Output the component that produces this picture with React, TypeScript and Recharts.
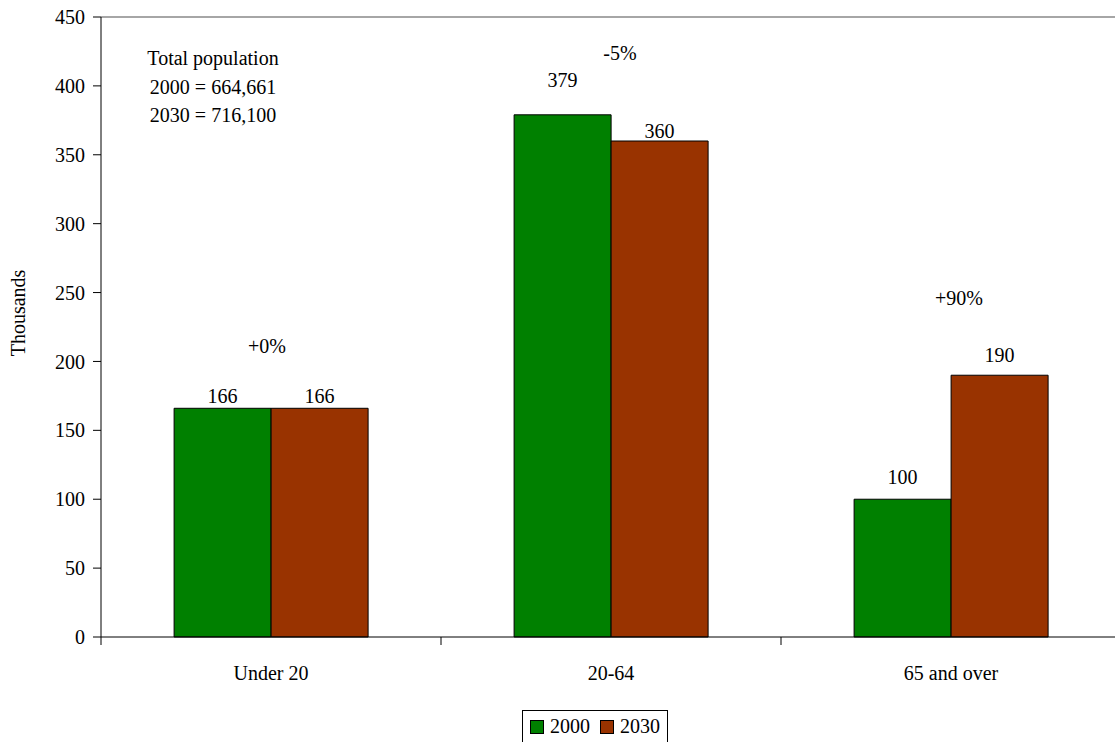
import React from 'react';
import {
  BarChart,
  Bar,
  XAxis,
  YAxis,
  LabelList,
  Legend,
  ReferenceLine,
  ReferenceDot,
  Label,
} from 'recharts';

// ---------- data ----------
const categories = ['Under 20', '20-64', '65 and over'];
const values2000 = [166, 379, 100];
const values2030 = [166, 360, 190];
const changeLabels = ['+0%', '-5%', '+90%'];
const yTicks = [0, 50, 100, 150, 200, 250, 300, 350, 400, 450];
const totalLines = ['Total population', '2000 = 664,661', '2030 = 716,100'];
const seriesNames = ['2000', '2030'];

// ---------- styling (annotation placement, not data) ----------
const changeLabelHeight = [211, 424, 246];
const changeLabelDx = [-4, 9, 8];
const lift2000 = [12, 35, 22];
const lift2030 = [12, 10, 20];

const FONT = '"Liberation Serif", "Times New Roman", serif';
const GREEN = '#008000';
const RUST = '#993300';

const data = categories.map((c, i) => ({
  category: c,
  v2000: values2000[i],
  v2030: values2030[i],
}));

const makeValueLabel = (lifts: number[]) => (props: any) => {
  const { x, y, width, value, index } = props;
  return (
    <text
      x={Number(x) + Number(width) / 2}
      y={Number(y) - lifts[index]}
      dy="0.35em"
      textAnchor="middle"
      fontFamily={FONT}
      fontSize={20}
      fill="#000"
    >
      {value}
    </text>
  );
};

const XTick = (props: any) => {
  const { x, y, payload, width, visibleTicksCount } = props;
  const half =
    payload && payload.offset ? payload.offset : Number(width) / Number(visibleTicksCount) / 2;
  const axisY = Number(y) - 8;
  const bx = Number(x) - half;
  return (
    <g>
      <line x1={bx} y1={axisY} x2={bx} y2={axisY + 8} stroke="#000" strokeWidth={1} />
      <text
        x={x}
        y={axisY + 43}
        textAnchor="middle"
        fontFamily={FONT}
        fontSize={20}
        fill="#000"
      >
        {payload.value}
      </text>
    </g>
  );
};

const renderLegend = () => {
  const colors = [GREEN, RUST];
  return (
    <div style={{ height: 33, boxSizing: 'border-box', paddingTop: 1 }}>
      <div
        style={{
          boxSizing: 'border-box',
          height: 32,
          border: '1px solid #000',
          borderBottom: 'none',
          display: 'flex',
          alignItems: 'center',
          padding: '0 7px 0 7px',
          fontFamily: FONT,
          fontSize: 20,
          color: '#000',
          background: '#fff',
        }}
      >
        {seriesNames.map((n, i) => (
          <span key={n} style={{ display: 'flex', alignItems: 'center', marginLeft: i ? 10 : 0 }}>
            <span
              style={{
                display: 'inline-block',
                width: 14,
                height: 14,
                boxSizing: 'border-box',
                border: '1px solid #000',
                background: colors[i],
                marginRight: 6,
              }}
            />
            <span>{n}</span>
          </span>
        ))}
      </div>
    </div>
  );
};

const yLabel = (props: any) => {
  const vb = props.viewBox || { x: 0, y: 17, width: 101, height: 620 };
  const cx = vb.x + 18;
  const cy = vb.y + vb.height / 2 - 14;
  return (
    <text
      x={cx}
      y={cy}
      transform={`rotate(-90 ${cx} ${cy})`}
      textAnchor="middle"
      dominantBaseline="central"
      fontFamily={FONT}
      fontSize={20}
      fill="#000"
    >
      Thousands
    </text>
  );
};

export default function App() {
  return (
    <div style={{ position: 'absolute', left: 0, top: 0, width: 1115, height: 742, background: '#fff' }}>
      <BarChart
        width={1115}
        height={742}
        data={data}
        margin={{ top: 17, right: -6, left: 0, bottom: 0 }}
        barCategoryGap="21.5%"
        barGap={0}
      >
        <XAxis
          dataKey="category"
          height={72}
          tickSize={8}
          tickMargin={0}
          tickLine={false}
          axisLine={{ stroke: '#000', strokeWidth: 1 }}
          tick={<XTick />}
          interval={0}
        />
        <YAxis
          width={101}
          domain={[0, 450]}
          ticks={yTicks}
          interval={0}
          tickSize={8}
          tickMargin={8}
          axisLine={{ stroke: '#000', strokeWidth: 1 }}
          tickLine={{ stroke: '#000', strokeWidth: 1 }}
          tick={{ fontFamily: FONT, fontSize: 20, fill: '#000' }}
        >
          <Label content={yLabel} />
        </YAxis>
        <ReferenceLine y={450} stroke="#888" strokeWidth={1.5} />
        <Legend verticalAlign="bottom" content={renderLegend} wrapperStyle={{ left: 522, width: 'auto', bottom: 0 }} />
        <Bar dataKey="v2000" name={seriesNames[0]} fill={GREEN} stroke="#000" strokeWidth={1} isAnimationActive={false}>
          <LabelList dataKey="v2000" content={makeValueLabel(lift2000)} />
        </Bar>
        <Bar dataKey="v2030" name={seriesNames[1]} fill={RUST} stroke="#000" strokeWidth={1} isAnimationActive={false}>
          <LabelList dataKey="v2030" content={makeValueLabel(lift2030)} />
        </Bar>
        {categories.map((c, i) => (
          <ReferenceDot
            key={c}
            x={c}
            y={changeLabelHeight[i]}
            r={1}
            fill="none"
            stroke="none"
            label={{
              value: changeLabels[i],
              position: 'center',
              dx: changeLabelDx[i],
              fontFamily: FONT,
              fontSize: 20,
              fill: '#000',
            }}
          />
        ))}
      </BarChart>
      <div
        style={{
          position: 'absolute',
          left: 113,
          top: 44,
          width: 200,
          textAlign: 'center',
          fontFamily: FONT,
          fontSize: 20,
          lineHeight: '28.5px',
          color: '#000',
        }}
      >
        {totalLines.map((l) => (
          <div key={l}>{l}</div>
        ))}
      </div>
    </div>
  );
}
